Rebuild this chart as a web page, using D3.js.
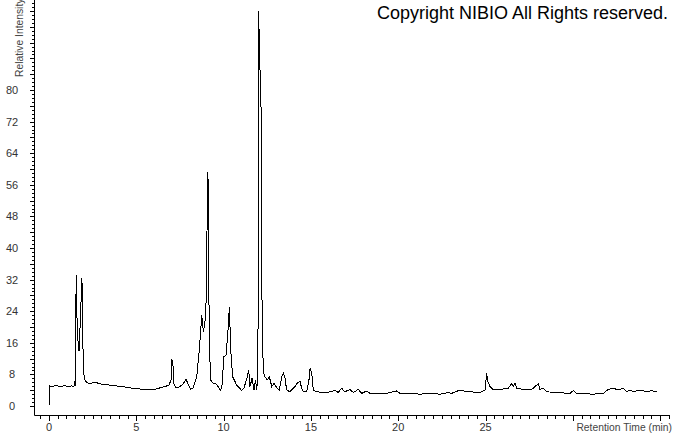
<!DOCTYPE html>
<html>
<head>
<meta charset="utf-8">
<script src="https://cdn.jsdelivr.net/npm/d3@7"></script>
<style>
  body { margin: 0; background: #fff; }
  svg { display: block; font-family: "Liberation Sans", Arial, sans-serif; }
</style>
</head>
<body>
<div id="chart"></div>
<script>
// retention time (min) and relative intensity (%)
var times = [
  0, 0.03, 0.17, 0.40, 0.63, 0.86, 1.09, 1.32, 1.43, 1.49, 1.52, 1.53, 1.54, 1.55, 1.59, 1.64,
  1.72, 1.78, 1.82, 1.85, 1.89, 1.93, 1.96, 2.02, 2.12, 2.23, 2.35, 2.52, 2.73, 2.92, 3.21,
  3.49, 3.78, 4.07, 4.35, 4.64, 4.93, 5.21, 5.50, 5.78, 6.07, 6.36, 6.64, 6.87, 6.99, 7.04,
  7.10, 7.16, 7.27, 7.44, 7.62, 7.79, 7.85, 7.96, 8.11, 8.25, 8.46, 8.61, 8.75, 8.84, 8.93,
  9.03, 9.07, 9.12, 9.15, 9.24, 9.41, 9.56, 9.68, 9.83, 9.91, 10.02, 10.14, 10.27, 10.33,
  10.41, 10.52, 10.75, 11.04, 11.17, 11.36, 11.44, 11.51, 11.63, 11.74, 11.82, 11.91, 12.00,
  12.01, 12.04, 12.06, 12.07, 12.10, 12.14, 12.17, 12.23, 12.31, 12.37, 12.50, 12.62, 12.76,
  12.89, 13.04, 13.19, 13.33, 13.42, 13.52, 13.61, 13.80, 14.09, 14.19, 14.38, 14.47, 14.56,
  14.76, 14.89, 14.95, 15.05, 15.14, 15.33, 15.71, 16.19, 16.38, 16.57, 16.76, 16.95, 17.24,
  17.43, 17.71, 17.91, 18.20, 18.38, 18.96, 19.34, 19.91, 20.10, 20.68, 21.25, 21.82, 22.39,
  22.87, 23.06, 23.54, 23.92, 24.11, 24.68, 24.97, 25.07, 25.13, 25.26, 25.45, 25.83, 26.31,
  26.50, 26.59, 26.69, 26.79, 27.16, 27.65, 27.93, 28.02, 28.12, 28.31, 28.50, 29.08, 29.84,
  30.03, 30.22, 31.17, 31.75, 32.03, 32.32, 32.61, 32.89, 33.09, 33.28, 33.47, 33.85, 34.23,
  34.52, 34.80
];
var intensity = [
  0, 5.1, 4.9, 5.2, 4.9, 5.1, 5.0, 5.1, 4.9, 6.1, 10.4, 5.1, 14.2, 33.2, 24.3, 17.5,
  13.9, 20.1, 21.3, 32.3, 31.6, 20.1, 10.8, 7.0, 6.2, 5.8, 5.6, 6.0, 5.9, 5.6, 5.4,
  5.3, 5.1, 5.0, 4.8, 4.6, 4.4, 4.3, 4.1, 4.05, 4.2, 4.6, 4.9, 5.3, 6.6, 11.8,
  10.4, 5.6, 4.6, 4.8, 5.3, 6.3, 6.8, 5.6, 4.2, 4.6, 7.4, 14.2, 23.0, 18.8, 21.0,
  28.9, 59.3, 57.0, 29.4, 6.6, 5.8, 5.6, 4.9, 3.9, 5.3, 12.5, 12.9, 20.1, 25.1,
  14.2, 7.4, 5.3, 3.9, 4.6, 7.4, 9.1, 4.9, 7.0, 4.05, 6.6, 4.05, 26.8,
  100, 92.7, 85.6, 91.4, 79.2, 79.2, 39.5, 14.2, 8.1, 7.4, 6.6, 7.4, 4.9,
  5.7, 4.7, 4.05, 7.4, 8.3, 7.0, 4.05, 3.6, 4.9, 5.7, 6.2, 4.5, 3.6,
  3.6, 6.6, 9.5, 8.3, 4.05, 3.6, 3.4, 3.6, 4.05, 3.4, 4.5, 3.6, 4.2,
  3.4, 4.2, 3.2, 3.8, 3.2, 3.2, 3.2, 3.8, 3.2, 3.2, 3.0, 3.2, 3.0,
  3.4, 3.2, 4.05, 3.6, 3.6, 3.4, 4.05, 8.3, 6.2, 4.9, 4.05, 4.2, 4.5,
  5.7, 4.9, 5.7, 4.5, 4.2, 4.2, 5.3, 5.6, 4.2, 4.5, 3.6, 3.4, 3.2,
  3.9, 3.2, 3.0, 3.2, 4.2, 4.5, 4.05, 4.5, 3.6, 4.05, 3.6, 4.05, 3.6,
  3.9, 3.6
];
var yLabelTicks = [0, 8, 16, 24, 32, 40, 48, 56, 64, 72, 80];
var xLabelTicks = [0, 5, 10, 15, 20, 25];

var width = 674, height = 434;
var points = times.map((t, i) => [t, intensity[i]]);

var svg = d3
  .select('#chart')
  .append('svg')
  .attr('width', width)
  .attr('height', height);

var x = d3.scaleLinear().domain([0, 35]).range([49, 660.1]);
var y = d3.scaleLinear().domain([0, 100]).range([406, 11]);

var axisX = 34.5, axisY = 415.5;

// y ticks: minor every 1, medium every 4
svg
  .append('g')
  .attr('transform', 'translate(' + axisX + ',0)')
  .call(d3.axisLeft(y).tickValues(d3.range(0, 104, 1)).tickSize(3).tickFormat(''))
  .call((g) => g.select('.domain').remove());
svg
  .append('g')
  .attr('transform', 'translate(' + axisX + ',0)')
  .call(d3.axisLeft(y).tickValues(d3.range(0, 104, 4)).tickSize(5).tickFormat(''))
  .call((g) => g.select('.domain').remove());

svg
  .append('g')
  .selectAll('text')
  .data(yLabelTicks)
  .enter()
  .append('text')
  .attr('x', 12)
  .attr('y', (d) => y(d))
  .attr('dy', '0.36em')
  .attr('text-anchor', 'middle')
  .attr('font-size', 11)
  .attr('fill', '#333')
  .text((d) => d);

// x ticks: minor every 0.5, major every 5
svg
  .append('g')
  .attr('transform', 'translate(0,' + axisY + ')')
  .call(d3.axisBottom(x).tickValues(d3.range(-0.5, 35.6, 0.5)).tickSize(3).tickFormat(''))
  .call((g) => g.select('.domain').remove());
svg
  .append('g')
  .attr('transform', 'translate(0,' + axisY + ')')
  .call(d3.axisBottom(x).tickValues(d3.range(0, 36, 5)).tickSize(5).tickFormat(''))
  .call((g) => g.select('.domain').remove());

svg
  .append('g')
  .selectAll('text')
  .data(xLabelTicks)
  .enter()
  .append('text')
  .attr('x', (d) => x(d))
  .attr('y', 431)
  .attr('text-anchor', 'middle')
  .attr('font-size', 11)
  .attr('fill', '#333')
  .text((d) => d);

svg.selectAll('.tick line').attr('stroke', '#000').attr('shape-rendering', 'crispEdges');

// axis lines
svg
  .append('line')
  .attr('x1', axisX).attr('x2', axisX)
  .attr('y1', 0).attr('y2', axisY)
  .attr('stroke', '#000');
svg
  .append('line')
  .attr('x1', axisX).attr('x2', 670)
  .attr('y1', axisY).attr('y2', axisY)
  .attr('stroke', '#000');

// axis titles (the y title runs off the top edge, as in the original)
svg
  .append('text')
  .attr('transform', 'translate(22.5,77) rotate(-90)')
  .attr('font-size', 10.3)
  .attr('fill', '#444')
  .text('Relative Intensity');

svg
  .append('text')
  .attr('x', 672)
  .attr('y', 431)
  .attr('text-anchor', 'end')
  .attr('font-size', 10.3)
  .attr('fill', '#444')
  .text('Retention Time (min)');

// chromatogram trace
svg
  .append('path')
  .datum(points)
  .attr('fill', 'none')
  .attr('stroke', '#000')
  .attr('stroke-width', 1)
  .attr('shape-rendering', 'crispEdges')
  .attr(
    'd',
    d3
      .line()
      .x((d) => x(d[0]))
      .y((d) => y(d[1]))
  );

svg
  .append('text')
  .attr('x', 377)
  .attr('y', 18.5)
  .attr('font-size', 18)
  .attr('fill', '#000')
  .text('Copyright NIBIO All Rights reserved.');
</script>
</body>
</html>
